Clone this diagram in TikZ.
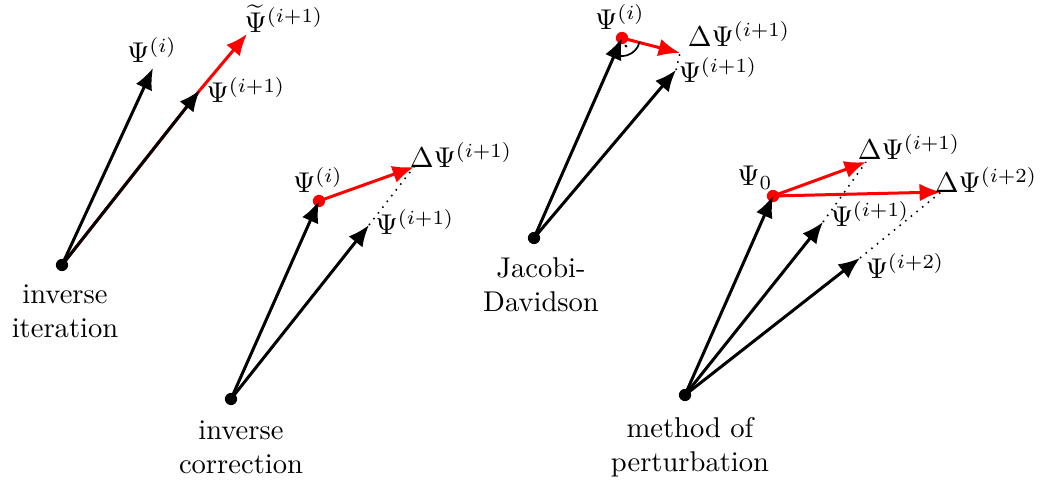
\documentclass[tikz,border=0pt]{standalone}
\usetikzlibrary{arrows.meta}

\tikzset{every picture/.style={line width=0.75pt}}
\tikzset{
  vec/.style={-{Latex[length=7.5pt,width=6.2pt]}, line width=1.05pt},
  corr/.style={vec, red},
  pt/.style={circle, fill, inner sep=0pt, minimum size=4.3pt},
  gap/.style={dotted, line width=0.55pt},
  lbl/.style={inner sep=0.75pt},
  methodname/.style={align=center, inner sep=0.75pt}
}

\begin{document}
\begin{tikzpicture}[x=0.35pt,y=0.35pt,yscale=-1,xscale=1]
\useasboundingbox (0,0) rectangle (1050,482);

%inverse iteration
\node [pt] (o1) at (62,265) {};
\coordinate (a1) at (153,68);
\coordinate (b1) at (200,90);
\coordinate (c1) at (247,34);
\draw [red, line width=1.05pt] (o1.center) -- (b1);
\draw [corr] (b1) -- (c1);
\draw [vec] (o1.center) -- (a1);
\draw [vec] (o1.center) -- (b1);
\node [lbl] (la1) at (152,50) {$\Psi^{(i)}$};
\node [lbl] (lb1) at (246,90) {$\Psi^{(i+1)}$};
\node [lbl] (lc1) at (284,19) {$\widetilde{\Psi}^{(i+1)}$};
\node [methodname] (t1) at (65,311) {inverse\\iteration};

%inverse correction
\node [pt] (o2) at (231,399) {};
\node [pt, red] (a2) at (319,201) {};
\coordinate (b2) at (369,225);
\coordinate (c2) at (414,167);
\draw [vec] (o2.center) -- (a2.center);
\draw [vec] (o2.center) -- (b2);
\draw [gap] (b2) -- (c2);
\draw [corr] (a2.center) -- (c2);
\node [lbl] (la2) at (318,180) {$\Psi^{(i)}$};
\node [lbl] (lb2) at (415,222) {$\Psi^{(i+1)}$};
\node [lbl] (lc2) at (461,155) {$\Delta\Psi^{(i+1)}$};
\node [methodname] (t2) at (241,447) {inverse\\correction};

%Jacobi-Davidson
\node [pt] (o3) at (534,238) {};
\node [pt, red] (a3) at (622,38) {};
\coordinate (b3) at (676,70);
\coordinate (c3) at (680,53);
\draw [vec] (o3.center) -- (a3.center);
\draw [vec] (o3.center) -- (b3);
\draw [gap] (b3) -- (c3);
\draw [corr] (a3.center) -- (c3);
\draw [line width=0.6pt] ([shift={(13.6:18)}]a3.center) arc [start angle=13.6, end angle=113.7, radius=18];
\fill ([shift={(64:9)}]a3.center) circle [radius=1.6];
\node [lbl] (la3) at (620,17) {$\Psi^{(i)}$};
\node [lbl] (lb3) at (718,70) {$\Psi^{(i+1)}$};
\node [lbl] (lc3) at (739,34) {$\Delta\Psi^{(i+1)}$};
\node [methodname] (t3) at (541,285) {Jacobi-\\Davidson};

%method of perturbation
\node [pt] (o4) at (685,395) {};
\node [pt, red] (a4) at (773,196) {};
\coordinate (b4) at (823,222);
\coordinate (d4) at (860,258);
\coordinate (c4) at (866,162);
\coordinate (e4) at (941,192);
\draw [vec] (o4.center) -- (a4.center);
\draw [vec] (o4.center) -- (b4);
\draw [vec] (o4.center) -- (d4);
\draw [gap] (b4) -- (c4);
\draw [gap] (d4) -- (e4);
\draw [corr] (a4.center) -- (c4);
\draw [corr] (a4.center) -- (e4);
\node [lbl] (la4) at (755,178) {$\Psi_0$};
\node [lbl] (lb4) at (870,214) {$\Psi^{(i+1)}$};
\node [lbl] (ld4) at (905,266) {$\Psi^{(i+2)}$};
\node [lbl] (lc4) at (909,147) {$\Delta\Psi^{(i+1)}$};
\node [lbl] (le4) at (986,180) {$\Delta\Psi^{(i+2)}$};
\node [methodname] (t4) at (690,447) {method of\\perturbation};

\end{tikzpicture}
\end{document}
